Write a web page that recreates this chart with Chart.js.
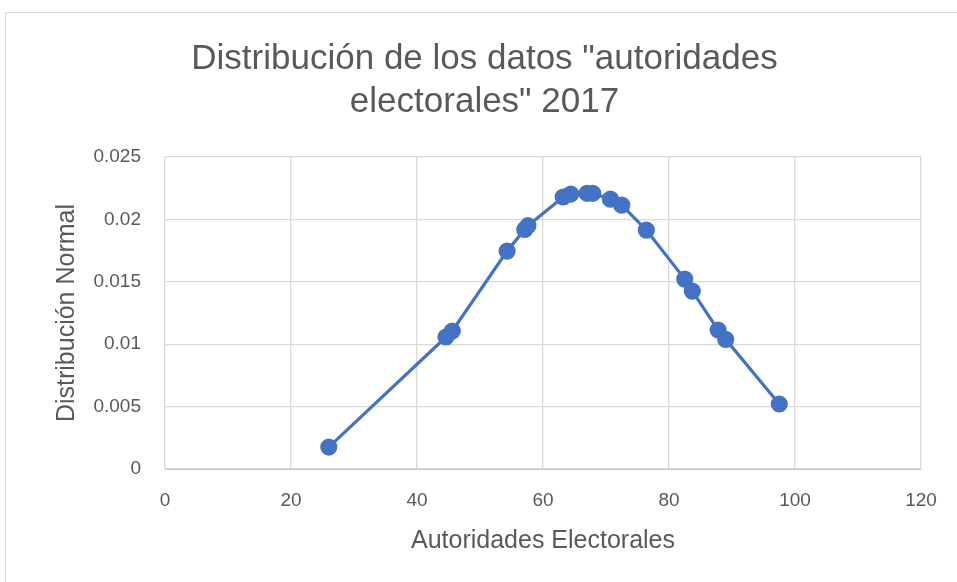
<!DOCTYPE html>
<html>
<head>
<meta charset="utf-8">
<script src="https://cdn.jsdelivr.net/npm/chart.js@4"></script>
<style>
  html, body { margin: 0; padding: 0; background: #fff; }
  #wrap { position: relative; width: 957px; height: 582px; }
  #marco { position: absolute; left: 5px; top: 12px; width: 960px; height: 580px; border: 1px solid #d9d9d9; box-sizing: border-box; }
  canvas { position: absolute; left: 0; top: 0; }
</style>
</head>
<body>
<div id="wrap">
  <div id="marco"></div>
  <canvas id="grafica" width="957" height="582"></canvas>
</div>
<script>
// Datos
const autoridades = [26.0, 44.6, 45.6, 54.3, 57.1, 57.6, 63.2, 64.4, 67.0, 67.9, 70.7, 72.5, 76.4, 82.5, 83.7, 87.8, 89.0, 97.5];
const distNormal = [0.00176, 0.01058, 0.01106, 0.01747, 0.0192, 0.0195, 0.0218, 0.02204, 0.0221, 0.0221, 0.02163, 0.02115, 0.01915, 0.01522, 0.01426, 0.01114, 0.01039, 0.00521];
const tituloLineas = ['Distribución de los datos "autoridades', 'electorales" 2017'];

const puntos = autoridades.map((x, i) => ({ x: x, y: distNormal[i] }));
const gris = '#595959';
const fuente = "'Liberation Sans', Arial, sans-serif";

new Chart(document.getElementById('grafica'), {
  type: 'scatter',
  data: {
    datasets: [{
      data: puntos,
      showLine: true,
      borderColor: '#4472C4',
      backgroundColor: '#4472C4',
      borderWidth: 3.2,
      pointRadius: 7,
      pointHoverRadius: 7
    }]
  },
  options: {
    responsive: false,
    animation: false,
    layout: { padding: { left: 48, right: 36, top: 0, bottom: 22 } },
    plugins: {
      legend: { display: false },
      tooltip: { enabled: false },
      title: {
        display: true,
        text: tituloLineas,
        color: gris,
        font: { family: fuente, size: 35, weight: 'normal', lineHeight: 1.23 },
        padding: { top: 38, bottom: 33 }
      }
    },
    scales: {
      x: {
        min: 0, max: 120,
        ticks: { stepSize: 20, color: gris, font: { family: fuente, size: 19 }, padding: 20 },
        grid: { color: '#d9d9d9', lineWidth: 1.3, drawTicks: false },
        border: { color: '#c8c8c8' },
        title: { display: true, text: 'Autoridades Electorales', color: gris, font: { family: fuente, size: 25 }, padding: { top: 4 } },
        afterFit: s => { s.height = 91; }
      },
      y: {
        min: 0, max: 0.025,
        ticks: { stepSize: 0.005, color: gris, font: { family: fuente, size: 19 }, padding: 24,
          callback: v => v === 0 ? '0' : String(+v.toFixed(3)) },
        grid: { color: '#d9d9d9', lineWidth: 1.3, drawTicks: false },
        border: { display: false },
        title: { display: true, text: 'Distribución Normal', color: gris, font: { family: fuente, size: 25 }, padding: { bottom: 0 } },
        afterFit: s => { s.width = 117; }
      }
    }
  }
});
</script>
</body>
</html>
